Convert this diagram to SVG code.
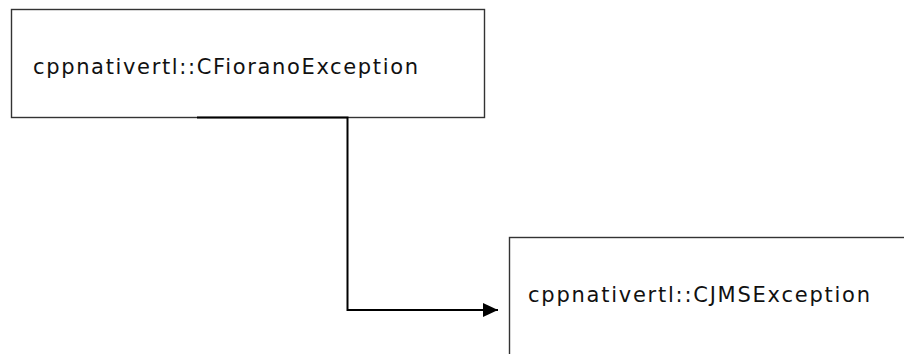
<svg xmlns="http://www.w3.org/2000/svg" width="904" height="354" viewBox="0 0 904 354">
<style>
.box{fill:#fff;stroke:#333;stroke-width:1.4}
.lbl{font-family:"DejaVu Sans",Verdana,sans-serif;font-size:21px;fill:#111}
.conn{fill:none;stroke:#000;stroke-width:2}
</style>
<defs>
<marker id="arr" markerWidth="16" markerHeight="14" refX="15" refY="7" orient="auto" markerUnits="userSpaceOnUse">
<path d="M0,0 L15,7 L0,14 Z" fill="#000"/>
</marker>
</defs>
<g id="node-cfioranoexception">
<rect class="box" x="11.5" y="9.5" width="473" height="108"/>
<text class="lbl" x="33" y="74" textLength="385" lengthAdjust="spacing">cppnativertl::CFioranoException</text>
</g>
<g id="node-cjmsexception">
<rect class="box" x="509.5" y="237.5" width="420" height="140"/>
<text class="lbl" x="528" y="302" textLength="342" lengthAdjust="spacing">cppnativertl::CJMSException</text>
</g>
<g id="connectors">
<path class="conn" d="M197,117.5 H347.5 V310 H498" marker-end="url(#arr)"/>
</g>
</svg>
